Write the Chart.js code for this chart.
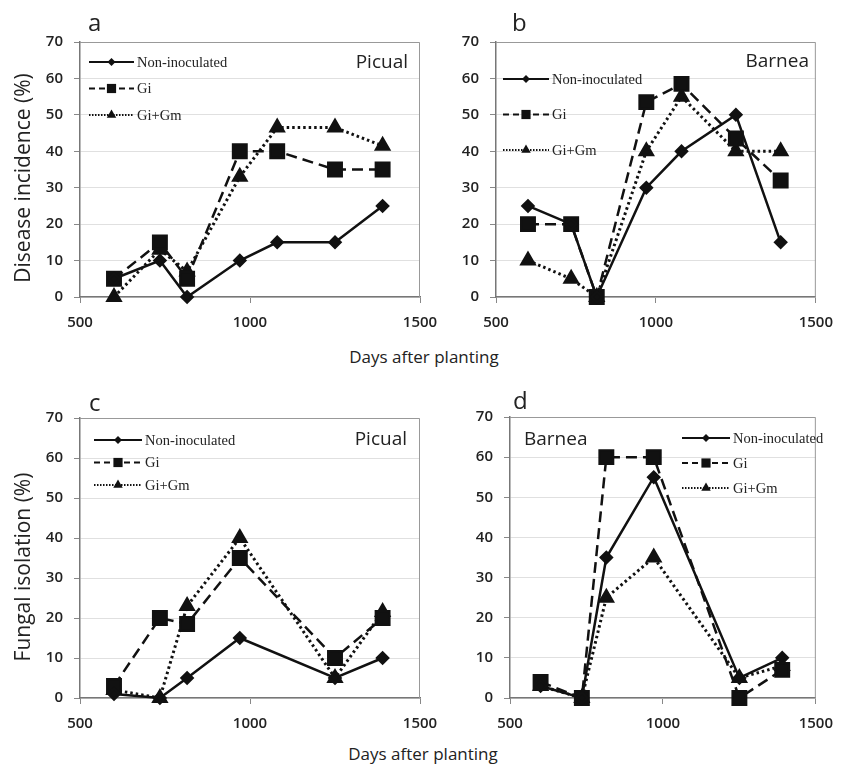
<!DOCTYPE html>
<html>
<head>
<meta charset="utf-8">
<script src="https://cdn.jsdelivr.net/npm/chart.js@4.4.1/dist/chart.umd.min.js"></script>
<style>
  body { margin: 0; background: #fff; width: 844px; height: 764px; overflow: hidden; position: relative; font-family: "Open Sans", sans-serif; color: #222; }
  canvas { position: absolute; }
  .txt { position: absolute; white-space: nowrap; line-height: 1; }
  .letter { font-size: 24px; }
  .cult { font-size: 19px; }
  .ytitle { font-size: 21px; transform: translate(-50%, -50%) rotate(-90deg); }
  .xtitle { font-size: 17px; transform: translate(-50%, -50%); }
</style>
</head>
<body>
<canvas id="chartA" width="450" height="340" style="left:0;top:0"></canvas>
<canvas id="chartB" width="422" height="340" style="left:422px;top:0"></canvas>
<canvas id="chartC" width="450" height="360" style="left:0;top:380px"></canvas>
<canvas id="chartD" width="422" height="360" style="left:422px;top:380px"></canvas>

<div class="txt letter" style="left:88px;top:10px">a</div>
<div class="txt letter" style="left:512px;top:10px">b</div>
<div class="txt letter" style="left:89px;top:390px">c</div>
<div class="txt letter" style="left:513px;top:388px">d</div>

<div class="txt cult" style="right:436px;top:52px">Picual</div>
<div class="txt cult" style="right:35px;top:51px">Barnea</div>
<div class="txt cult" style="right:437px;top:429px">Picual</div>
<div class="txt cult" style="left:524px;top:429px">Barnea</div>

<div class="txt ytitle" style="left:22px;top:178px">Disease incidence (%)</div>
<div class="txt ytitle" style="left:22px;top:567px">Fungal isolation (%)</div>
<div class="txt xtitle" style="left:424px;top:356px">Days after planting</div>
<div class="txt xtitle" style="left:423px;top:753px">Days after planting</div>

<script>
// days after planting for each sampling
var daysAB = [600, 735, 815, 970, 1080, 1250, 1390];
var daysCD = [600, 735, 815, 970, 1250, 1390];
var seriesNames = ["Non-inoculated", "Gi", "Gi+Gm"];

// a - disease incidence, Picual
var aNon = [5, 10, 0, 10, 15, 15, 25];
var aGi  = [5, 15, 5, 40, 40, 35, 35];
var aGm  = [0, 13, 7, 33, 46.5, 46.5, 41.5];
// b - disease incidence, Barnea
var bNon = [25, 20, 0, 30, 40, 50, 15];
var bGi  = [20, 20, 0, 53.5, 58.5, 43.5, 32];
var bGm  = [10, 5, 0, 40, 55, 40, 40];
// c - fungal isolation, Picual
var cNon = [1, 0, 5, 15, 5, 10];
var cGi  = [3, 20, 18.5, 35, 10, 20];
var cGm  = [2, 0, 23, 40, 5, 21.5];
// d - fungal isolation, Barnea
var dNon = [3, 0, 35, 55, 5, 10];
var dGi  = [4, 0, 60, 60, 0, 7];
var dGm  = [3, 0, 25, 35, 5, 8];

var yMin = 0, yMax = 70, yStep = 10;
var xMin = 500, xMax = 1500, xStep = 500;

/*******************************
* marker drawing for the legend
*******************************/
function drawMarker(ctx, style, x, y, r) {
  ctx.fillStyle = "#111";
  ctx.beginPath();
  if (style === "rect") {
    var s = r * Math.SQRT1_2;
    ctx.rect(x - s, y - s, 2 * s, 2 * s);
  } else if (style === "rectRot") {
    ctx.moveTo(x - r, y); ctx.lineTo(x, y - r); ctx.lineTo(x + r, y); ctx.lineTo(x, y + r);
  } else {
    ctx.moveTo(x, y - r);
    ctx.lineTo(x + r * 0.866, y + r * 0.5);
    ctx.lineTo(x - r * 0.866, y + r * 0.5);
  }
  ctx.closePath();
  ctx.fill();
}

var insetLegend = {
  id: "insetLegend",
  afterDatasetsDraw: function (chart, args, opts) {
    var ctx = chart.ctx;
    chart.data.datasets.forEach(function (ds, i) {
      var y = opts.y + i * opts.dy;
      ctx.save();
      ctx.strokeStyle = "#111";
      ctx.lineWidth = 1.8;
      ctx.setLineDash(ds.legendDash);
      ctx.beginPath();
      ctx.moveTo(opts.x, y);
      ctx.lineTo(opts.x + opts.len, y);
      ctx.stroke();
      ctx.setLineDash([]);
      drawMarker(ctx, ds.pointStyle, opts.x + opts.len / 2, y, ds.legendRadius);
      ctx.fillStyle = "#222";
      ctx.font = "14.5px 'Liberation Serif'";
      ctx.textBaseline = "middle";
      ctx.fillText(ds.label, opts.x + opts.len + 3, y + 1);
      ctx.restore();
    });
  }
};

// light frame on top and right of plot area
var plotFrame = {
  id: "plotFrame",
  beforeDatasetsDraw: function (chart) {
    var a = chart.chartArea, ctx = chart.ctx;
    ctx.save();
    ctx.strokeStyle = "#999";
    ctx.lineWidth = 1;
    ctx.beginPath();
    ctx.moveTo(a.left, a.top + 0.5);
    ctx.lineTo(a.right - 0.5, a.top + 0.5);
    ctx.lineTo(a.right - 0.5, a.bottom);
    ctx.stroke();
    ctx.restore();
  }
};

function pts(days, vals) {
  return days.map(function (d, i) { return { x: d, y: vals[i] }; });
}

function makeChart(id, days, non, gi, gm, lay, leg) {
  var tickFont = { family: "Open Sans", size: 15, weight: "600" };
  return new Chart(id, {
    type: "line",
    data: {
      datasets: [{
        label: seriesNames[0],
        data: pts(days, non),
        borderColor: "#111", backgroundColor: "#111",
        borderWidth: 2.5, borderDash: [],
        pointStyle: "rectRot", pointRadius: 5.5,
        legendDash: [], legendRadius: 4
      }, {
        label: seriesNames[1],
        data: pts(days, gi),
        borderColor: "#111", backgroundColor: "#111",
        borderWidth: 2.5, borderDash: [11, 6],
        pointStyle: "rect", pointRadius: 9.5,
        legendDash: [6, 4], legendRadius: 6.5
      }, {
        label: seriesNames[2],
        data: pts(days, gm),
        borderColor: "#111", backgroundColor: "#111",
        borderWidth: 3, borderDash: [2.5, 3],
        pointStyle: "triangle", pointRadius: 7,
        legendDash: [1.5, 1.5], legendRadius: 5.5
      }]
    },
    options: {
      responsive: false,
      animation: false,
      layout: { padding: { top: lay.top, right: lay.right, left: 0, bottom: 0 } },
      elements: { line: { tension: 0 }, point: { borderWidth: 0 } },
      datasets: { line: { clip: false } },
      plugins: {
        legend: { display: false },
        tooltip: { enabled: false },
        insetLegend: leg
      },
      scales: {
        x: {
          type: "linear", min: xMin, max: xMax,
          ticks: { stepSize: xStep, color: "#222", font: tickFont, padding: 11, maxRotation: 0,
                   format: { useGrouping: false } },
          grid: { drawOnChartArea: false, tickLength: 6, tickColor: "#888" },
          border: { color: "#777", width: 1.5 },
          afterFit: function (s) { s.height = lay.xh; }
        },
        y: {
          min: yMin, max: yMax,
          ticks: { stepSize: yStep, color: "#222", font: tickFont, padding: 11 },
          grid: { color: "#e0e0e0", tickLength: 6, tickColor: "#888" },
          border: { color: "#777", width: 1.5 },
          afterFit: function (s) { s.width = lay.yw; }
        }
      }
    },
    plugins: [insetLegend, plotFrame]
  });
}

makeChart("chartA", daysAB, aNon, aGi, aGm,
  { top: 42, right: 30, xh: 43, yw: 80 },
  { x: 89, y: 62, dy: 26.5, len: 45 });
makeChart("chartB", daysAB, bNon, bGi, bGm,
  { top: 42, right: 19, xh: 43, yw: 74 },
  { x: 81, y: 79, dy: 35.5, len: 46 });
makeChart("chartC", daysCD, cNon, cGi, cGm,
  { top: 38, right: 30, xh: 42, yw: 80 },
  { x: 94, y: 60, dy: 22.5, len: 48 });
makeChart("chartD", daysCD, dNon, dGi, dGm,
  { top: 37, right: 20, xh: 42, yw: 88 },
  { x: 260, y: 58, dy: 25, len: 48 });
</script>
</body>
</html>
